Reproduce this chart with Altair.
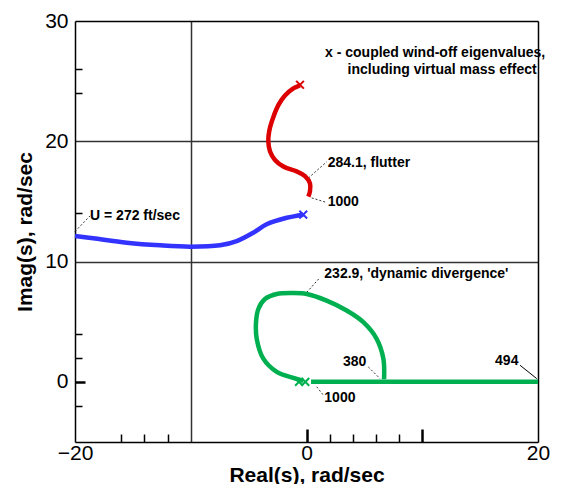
import altair as alt
import pandas as pd

# ---- data ----
red_x = [-0.56, -1.14, -1.86, -2.43, -2.87, -3.21, -3.30, -3.15, -2.72, -2.0, -0.85, -0.13, 0.30, 0.30, 0.16]
red_y = [24.65, 24.4, 23.8, 23.0, 22.0, 20.9, 20.0, 19.15, 18.45, 17.9, 17.5, 17.1, 16.5, 15.85, 15.4]

blue_x = [-20, -18.42, -15.53, -12.66, -10.06, -7.47, -6.03, -4.6, -3.44, -1.71, -0.28]
blue_y = [12.12, 11.93, 11.57, 11.35, 11.24, 11.35, 11.7, 12.4, 13.1, 13.64, 13.9]

green_loop_x = [-0.28, -1.14, -2.57, -3.73, -4.30, -4.36, -4.16, -3.59, -2.57, -1.14, 0.02, 1.74, 3.47, 4.91, 6.06, 6.64, 6.70]
green_loop_y = [0.08, 0.33, 0.83, 1.93, 3.58, 4.96, 6.06, 6.88, 7.3, 7.38, 7.3, 6.75, 5.93, 4.96, 3.58, 1.93, 0.22]

green_real_x = [0.39, 20]
green_real_y = [0, 0]

marker_x = [-0.56, -0.28, -0.65, -0.1]
marker_y = [24.7, 13.9, 0.0, 0.0]
marker_s = ["flutter", "blue", "green", "green"]

label_text = ["x - coupled wind-off eigenvalues,", "including virtual mass effect",
              "284.1, flutter", "1000", "U = 272 ft/sec",
              "232.9, 'dynamic divergence'", "380", "494", "1000"]
label_x = [1.6, 3.55, 1.83, 1.83, -18.7, 1.54, 3.15, 16.29, 1.54]
label_y = [27.35, 25.95, 18.18, 14.96, 13.8, 8.95, 1.65, 1.74, -1.38]

lead_x1 = [0.16, 0.45, -20.0, 0.02, 5.34, 0.88]
lead_y1 = [16.94, 15.29, 12.5, 7.44, 1.24, -0.41]
lead_x2 = [1.75, 1.68, -18.7, 1.17, 6.35, 1.45]
lead_y2 = [18.3, 14.93, 13.8, 8.68, 0.27, -1.1]

solid_x1 = [18.45]
solid_y1 = [1.38]
solid_x2 = [19.89]
solid_y2 = [0.27]

x_labels = [-20, 0, 20]
y_labels = [0, 10, 20, 30]
x_grid = [-10]
y_grid = [10, 20]
x_minor = [-16, -14, -12, 2, 4, 6, 8]
x_major = [0, 10]
y_minor = [26, 24, 14, 4, 2, -2]
y_major = [0]

RED = "#dd0000"
BLUE = "#3333ff"
GREEN = "#00b050"
W, H = 463, 421
FONT = "Liberation Sans"

xs = alt.Scale(domain=[-20, 20], nice=False, zero=False)
ys = alt.Scale(domain=[-5, 30], nice=False, zero=False)


def line_df(xv, yv, name):
    return pd.DataFrame({"x": xv, "y": yv, "i": list(range(len(xv))), "s": name})


lines = pd.concat([
    line_df(red_x, red_y, "red"),
    line_df(blue_x, blue_y, "blue"),
    line_df(green_loop_x, green_loop_y, "gloop"),
    line_df(green_real_x, green_real_y, "greal"),
])

color_scale = alt.Scale(domain=["red", "blue", "gloop", "greal", "flutter", "green"],
                        range=[RED, BLUE, GREEN, GREEN, RED, GREEN])

main_x_axis = alt.Axis(values=x_labels, ticks=False, grid=False, domain=True, domainColor="black",
                       domainWidth=1.5, labelFont=FONT, labelFontSize=21, labelColor="black",
                       labelFlush=False, labelPadding=0, labelBaseline="top",
                       title="Real(s), rad/sec", titleFont=FONT, titleFontSize=21,
                       titleFontWeight="bold", titleColor="black", titleX=W / 2, titleY=39,
                       titleBaseline="alphabetic", titleAlign="center")
main_y_axis = alt.Axis(values=y_labels, ticks=False, grid=False, domain=True, domainColor="black",
                       domainWidth=1.5, labelFont=FONT, labelFontSize=21, labelColor="black",
                       labelFlush=False, labelPadding=7,
                       title="Imag(s), rad/sec", titleFont=FONT, titleFontSize=21,
                       titleFontWeight="bold", titleColor="black", titleX=-50, titleY=H / 2,
                       titleBaseline="middle", titleAlign="center", titleAngle=-90)

curves = alt.Chart(lines).mark_line(strokeWidth=4.5, interpolate="catmull-rom").encode(
    x=alt.X("x:Q", scale=xs, axis=main_x_axis),
    y=alt.Y("y:Q", scale=ys, axis=main_y_axis),
    color=alt.Color("s:N", scale=color_scale, legend=None),
    detail="s:N",
    order="i:Q",
)

marks_df = pd.DataFrame({"x": marker_x, "y": marker_y, "s": marker_s})
markers = alt.Chart(marks_df).mark_point(
    shape="M-1,-1L1,1M-1,1L1,-1", filled=False, size=60, strokeWidth=2, opacity=1
).encode(
    x=alt.X("x:Q", scale=xs, axis=alt.Axis(orient="top", values=x_grid, grid=True, gridColor="#333333",
                                             gridWidth=1.5, gridOpacity=1, ticks=False, labels=False,
                                             domain=True, domainColor="black", domainWidth=1.5, title=None)),
    y=alt.Y("y:Q", scale=ys, axis=alt.Axis(orient="right", values=y_grid, grid=True, gridColor="#333333",
                                             gridWidth=1.5, gridOpacity=1, ticks=False, labels=False,
                                             domain=True, domainColor="black", domainWidth=1.5, title=None)),
    color=alt.Color("s:N", scale=color_scale, legend=None),
)

lead_df = pd.DataFrame({"x": lead_x1, "y": lead_y1, "x2": lead_x2, "y2": lead_y2})
leaders = alt.Chart(lead_df).mark_rule(color="#333333", strokeWidth=1, strokeDash=[2, 2]).encode(
    x=alt.X("x:Q", scale=xs, axis=alt.Axis(orient="top", offset=-H, values=x_minor, tickSize=8,
                                             tickWidth=1.5, tickColor="black", labels=False,
                                             domain=False, grid=False, title=None)),
    y=alt.Y("y:Q", scale=ys, axis=alt.Axis(orient="right", offset=-W, values=y_minor, tickSize=7,
                                             tickWidth=1.5, tickColor="black", labels=False,
                                             domain=False, grid=False, title=None)),
    x2="x2:Q", y2="y2:Q",
)

solid_df = pd.DataFrame({"x": solid_x1, "y": solid_y1, "x2": solid_x2, "y2": solid_y2})
solid = alt.Chart(solid_df).mark_rule(color="black", strokeWidth=1).encode(
    x=alt.X("x:Q", scale=xs, axis=alt.Axis(orient="top", offset=-H, values=x_major, tickSize=13,
                                             tickWidth=2.5, tickColor="black", labels=False,
                                             domain=False, grid=False, title=None)),
    y=alt.Y("y:Q", scale=ys, axis=alt.Axis(orient="right", offset=-W, values=y_major, tickSize=10,
                                             tickWidth=2.5, tickColor="black", labels=False,
                                             domain=False, grid=False, title=None)),
    x2="x2:Q", y2="y2:Q",
)

lab_df = pd.DataFrame({"x": label_x, "y": label_y, "t": label_text})
labels = alt.Chart(lab_df).mark_text(
    align="left", baseline="middle", font=FONT, fontSize=14, fontWeight="bold", color="black"
).encode(
    x=alt.X("x:Q", scale=xs, axis=None),
    y=alt.Y("y:Q", scale=ys, axis=None),
    text="t:N",
)

chart = alt.layer(leaders, solid, markers, curves, labels).resolve_axis(
    x="independent", y="independent"
).properties(
    width=W, height=H,
    autosize=alt.AutoSizeParams(type="none"),
    padding={"left": 67, "top": 13, "right": 15, "bottom": 42},
    background="white",
).configure_view(stroke=None)

chart.save("out.html", embed_options={"renderer": "svg", "actions": False})
